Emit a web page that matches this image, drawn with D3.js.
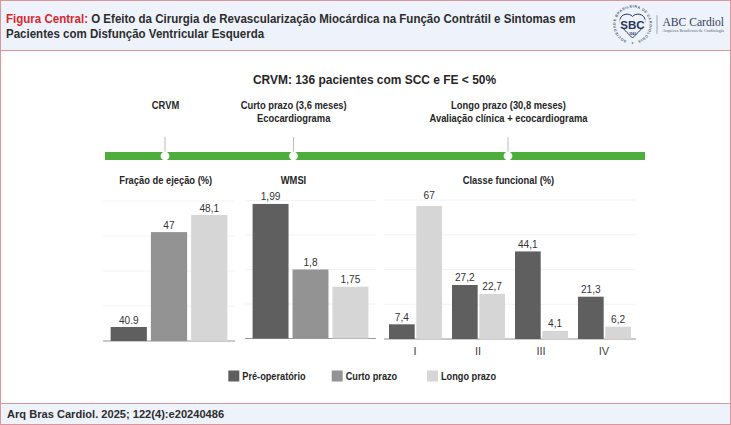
<!DOCTYPE html>
<html>
<head>
<meta charset="utf-8">
<script src="https://cdn.jsdelivr.net/npm/d3@7"></script>
<style>
    html, body { margin: 0; padding: 0; background: #fff; }
    svg { display: block; }
    text { font-family: "Liberation Sans", Arial, sans-serif; }
    .narrow { font-weight: 700; fill: #262626; }
    .val { font-size: 11.5px; fill: #333; text-anchor: middle; }
</style>
</head>
<body>
<div id="chart"></div>
<script>
// data
const series = ["Pré-operatório", "Curto prazo", "Longo prazo"];

const efLabels = ["40.9", "47", "48,1"];
const efValues = [40.9, 47, 48.1];

const wmsiLabels = ["1,99", "1,8", "1,75"];
const wmsiValues = [1.99, 1.8, 1.75];

const classes = ["I", "II", "III", "IV"];
const classPre = [7.4, 27.2, 44.1, 21.3];
const classLong = [67, 22.7, 4.1, 6.2];
const classPreLabels = ["7,4", "27,2", "44,1", "21,3"];
const classLongLabels = ["67", "22,7", "4,1", "6,2"];

const timelineLabels = [
    ["CRVM"],
    ["Curto prazo (3,6 meses)", "Ecocardiograma"],
    ["Longo prazo (30,8 meses)", "Avaliação clínica + ecocardiograma"]
];
const panelTitles = ["Fração de ejeção (%)", "WMSI", "Classe funcional (%)"];

// layout
const seriesColors = ["#5f5f5f", "#939393", "#d6d6d6"];
const timelineX = [165, 293.5, 508];
const timelineTextX = [165.5, 293.7, 508.5];
const panelTitleX = [165.7, 293.5, 508.5];
const legendX = [228.3, 331.7, 427];

const width = 731, height = 425;
const svg = d3.select("#chart").append("svg")
    .attr("width", width)
    .attr("height", height);

const pink = "#d9969d";

// the reference uses a condensed face, so squeeze the text horizontally
function squeeze(sel, k) {
    sel.each(function () {
        const len = this.getComputedTextLength();
        d3.select(this).attr("textLength", len * k).attr("lengthAdjust", "spacingAndGlyphs");
    });
    return sel;
}

// header and footer bands
svg.append("rect").attr("x", 0.5).attr("y", 0.5).attr("width", 730).attr("height", 424)
    .attr("fill", "#fff").attr("stroke", pink).attr("stroke-width", 1);
svg.append("rect").attr("x", 0.5).attr("y", 0.5).attr("width", 730).attr("height", 50)
    .attr("fill", "#eef3fb").attr("stroke", pink).attr("stroke-width", 1);
svg.append("rect").attr("x", 0.5).attr("y", 403.5).attr("width", 730).attr("height", 21)
    .attr("fill", "#eef3fb").attr("stroke", pink).attr("stroke-width", 1);

const head = svg.append("g").style("font-size", "12.4px").style("font-weight", 700).attr("fill", "#2d2d2d");
const line1 = head.append("g").attr("transform", "translate(6,23) scale(0.93,1)").append("text");
line1.append("tspan").attr("fill", "#d8262c").text("Figura Central:");
line1.append("tspan").text(" O Efeito da Cirurgia de Revascularização Miocárdica na Função Contrátil e Sintomas em");
head.append("g").attr("transform", "translate(6,37.5) scale(0.93,1)").append("text")
    .text("Pacientes com Disfunção Ventricular Esquerda");

svg.append("text").attr("x", 7).attr("y", 418)
    .style("font-size", "11.1px").style("font-weight", 700).attr("fill", "#2d2d2d")
    .text("Arq Bras Cardiol. 2025; 122(4):e20240486");

// logo
const logo = svg.append("g").attr("transform", "translate(632.5,24.5)");
logo.append("path").attr("id", "sbcRing").attr("fill", "none")
    .attr("d", "M0,17 A17,17 0 1,1 0.01,17");
logo.append("text").style("font-size", "3.6px").style("font-weight", 700).attr("fill", "#4a5670")
    .append("textPath").attr("href", "#sbcRing").attr("startOffset", 6)
    .attr("textLength", 95)
    .text("SOCIEDADE BRASILEIRA DE CARDIOLOGIA");
logo.append("circle").attr("cy", 18.5).attr("r", 0.8).attr("fill", "#4a5670");
logo.append("path").attr("fill", "none").attr("stroke", "#27345a").attr("stroke-width", 1)
    .attr("d", "M0,-8 C-3,-12 -12.5,-11 -12.5,-4 C-12.5,3 -4,9 0,13.5 C4,9 12.5,3 12.5,-4 C12.5,-11 3,-12 0,-8 Z");
logo.append("rect").attr("x", -13).attr("y", -5).attr("width", 26).attr("height", 9.5).attr("fill", "#eef3fb");
logo.append("text").attr("text-anchor", "middle").attr("y", 4)
    .style("font-size", "11.5px").style("font-weight", 700).attr("fill", "#27345a").text("SBC");
logo.append("text").attr("text-anchor", "middle").attr("y", 10)
    .style("font-size", "3px").style("font-weight", 700).attr("fill", "#27345a").text("1943");
svg.append("line").attr("x1", 657).attr("x2", 657).attr("y1", 15).attr("y2", 34)
    .attr("stroke", "#8a93a6").attr("stroke-width", 0.8);
svg.append("text").attr("x", 662.5).attr("y", 26)
    .attr("textLength", 61.5).attr("lengthAdjust", "spacingAndGlyphs")
    .style("font-family", "'Liberation Serif', serif").style("font-size", "12.5px").attr("fill", "#33415f")
    .text("ABC Cardiol");
svg.append("text").attr("x", 662.5).attr("y", 31.5)
    .attr("textLength", 61.5).attr("lengthAdjust", "spacingAndGlyphs")
    .style("font-family", "'Liberation Serif', serif").style("font-size", "3.7px").attr("fill", "#55607a")
    .text("Arquivos Brasileiros de Cardiologia");

// titles
squeeze(svg.append("text").attr("class", "narrow").attr("x", 374.5).attr("y", 83.5)
    .attr("text-anchor", "middle").style("font-size", "13.5px")
    .text("CRVM: 136 pacientes com SCC e FE < 50%"), 0.885);

// timeline
svg.append("rect").attr("x", 105).attr("y", 152).attr("width", 540).attr("height", 8).attr("fill", "#4dae3e");

const tl = svg.selectAll("g.tl").data(timelineLabels).enter().append("g").attr("class", "tl");
tl.append("line")
    .attr("x1", (d, i) => timelineX[i]).attr("x2", (d, i) => timelineX[i]).attr("y1", 137).attr("y2", 153)
    .attr("stroke", "#aaa").attr("stroke-width", 0.8);
tl.append("circle")
    .attr("cx", (d, i) => timelineX[i]).attr("cy", 156).attr("r", 4.4).attr("fill", "#fff");
tl.each(function (d, k) {
    squeeze(d3.select(this).selectAll("text").data(d).enter().append("text")
        .attr("class", "narrow")
        .attr("x", timelineTextX[k])
        .attr("y", (l, i) => 108.5 + i * 13.5)
        .attr("text-anchor", "middle")
        .style("font-size", "11px")
        .text(l => l), 0.85);
});

// panel titles
squeeze(svg.selectAll("text.ptitle").data(panelTitles).enter().append("text")
    .attr("class", "narrow ptitle")
    .attr("x", (d, i) => panelTitleX[i]).attr("y", 184)
    .attr("text-anchor", "middle")
    .style("font-size", "11px")
    .text(d => d), 0.85);

function drawGrid(y, ticks, x0, x1) {
    svg.append("g").selectAll("line").data(ticks).enter().append("line")
        .attr("x1", x0).attr("x2", x1)
        .attr("y1", d => y(d)).attr("y2", d => y(d))
        .attr("stroke", "#f2f2f2").attr("stroke-width", 1);
    svg.append("line").attr("x1", x0).attr("x2", x1)
        .attr("y1", y(ticks[0])).attr("y2", y(ticks[0]))
        .attr("stroke", "#9a9a9a").attr("stroke-width", 1);
}

function simplePanel(values, labels, domain, ticks, yRange, xRange) {
    const y = d3.scaleLinear().domain(domain).range(yRange);
    const x = d3.scaleBand().domain(d3.range(values.length)).range(xRange).paddingInner(0.1).paddingOuter(0.19);
    drawGrid(y, ticks, xRange[0], xRange[1]);
    svg.append("g").selectAll("rect").data(values).enter().append("rect")
        .attr("x", (d, i) => x(i)).attr("width", x.bandwidth())
        .attr("y", d => y(d)).attr("height", d => y(domain[0]) - y(d))
        .attr("fill", (d, i) => seriesColors[i]);
    squeeze(svg.append("g").selectAll("text").data(values).enter().append("text")
        .attr("class", "val")
        .attr("x", (d, i) => x(i) + x.bandwidth() / 2)
        .attr("y", d => y(d) - 3.5)
        .text((d, i) => labels[i]), 0.88);
}

simplePanel(efValues, efLabels, [40, 49], d3.range(40, 49.1, 2.25), [341, 201], [103, 235]);
simplePanel(wmsiValues, wmsiLabels, [1.6, 2], d3.range(1.6, 2.01, 0.1), [338.5, 200.5], [245, 376]);

// classe funcional
const yc = d3.scaleLinear().domain([0, 70]).range([339, 200]);
const xc = d3.scaleBand().domain(classes).range([384, 636]);
const xi = d3.scaleBand().domain([0, 2]).range([0, 53]).paddingInner(0.06);
drawGrid(yc, d3.range(0, 70.1, 17.5), 384, 636);

const groups = svg.selectAll("g.cf").data(classes).enter().append("g")
    .attr("class", "cf")
    .attr("transform", d => "translate(" + (xc(d) + 5) + ",0)");
groups.each(function (c, i) {
    const g = d3.select(this);
    const rows = [
        { s: 0, v: classPre[i], l: classPreLabels[i] },
        { s: 2, v: classLong[i], l: classLongLabels[i] }
    ];
    g.selectAll("rect").data(rows).enter().append("rect")
        .attr("x", d => xi(d.s)).attr("width", xi.bandwidth())
        .attr("y", d => yc(d.v)).attr("height", d => yc(0) - yc(d.v))
        .attr("fill", d => seriesColors[d.s]);
    squeeze(g.selectAll("text").data(rows).enter().append("text")
        .attr("class", "val")
        .attr("x", d => xi(d.s) + xi.bandwidth() / 2)
        .attr("y", d => yc(d.v) - 3.5 - (d.v === 67 ? 3 : 0))
        .text(d => d.l), 0.88);
});
svg.append("g").selectAll("text").data(classes).enter().append("text")
    .attr("x", d => xc(d) + xc.bandwidth() / 2 - 0.5).attr("y", 355)
    .attr("text-anchor", "middle")
    .style("font-size", "11px").attr("fill", "#444")
    .text(d => d);

// legend
const leg = svg.selectAll("g.leg").data(series).enter().append("g")
    .attr("class", "leg")
    .attr("transform", (d, i) => "translate(" + legendX[i] + ",370.5)");
leg.append("rect").attr("width", 11).attr("height", 11).attr("fill", (d, i) => seriesColors[i]);
squeeze(leg.append("text").attr("class", "narrow").attr("x", 14).attr("y", 9.5)
    .style("font-size", "10.8px")
    .text(d => d), 0.85);
</script>
</body>
</html>
